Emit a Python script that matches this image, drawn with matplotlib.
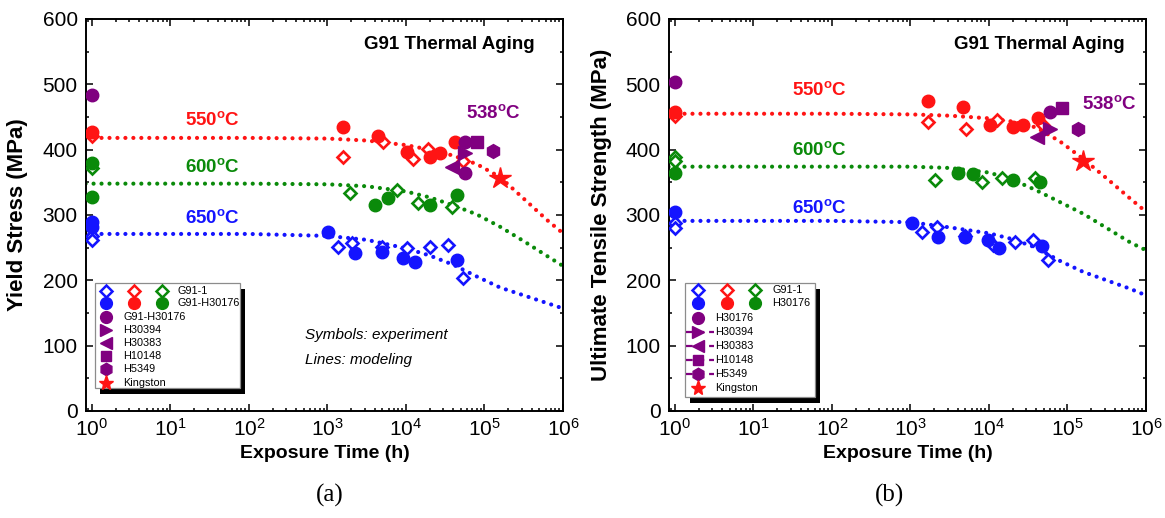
import numpy as np
import matplotlib
matplotlib.use("Agg")
import matplotlib.pyplot as plt
from matplotlib.patches import Rectangle
from matplotlib.ticker import FixedLocator, LogLocator, MultipleLocator, NullFormatter

plt.rcParams['font.family'] = ['Liberation Sans', 'DejaVu Sans']
plt.rcParams['mathtext.fontset'] = 'custom'
plt.rcParams['mathtext.rm'] = 'Liberation Sans'
plt.rcParams['mathtext.it'] = 'Liberation Sans:italic'
plt.rcParams['mathtext.bf'] = 'Liberation Sans:bold'

BLUE = '#1414ff'
RED = '#ff1414'
GREEN = '#0a8a0a'
PURPLE = '#800080'

# ---------------- (a) yield stress, MPa ----------------
ys_550_open_t = [1, 1585, 5130, 12300, 19000, 53700]
ys_550_open = [421, 389, 411, 386, 401, 382]
ys_550_fill_t = [1, 1585, 4370, 10200, 20400, 26900, 41700]
ys_550_fill = [427, 435, 421, 397, 389, 395, 411]
ys_600_open_t = [1, 1950, 7760, 14100, 38900]
ys_600_open = [372, 334, 338, 318, 312]
ys_600_fill_t = [1, 1, 4070, 5890, 20400, 44700]
ys_600_fill = [380, 328, 315, 326, 315, 331]
ys_650_open_t = [1, 1, 1350, 2040, 4900, 10200, 20400, 34700, 53700]
ys_650_open = [268, 261, 251, 257, 251, 249, 251, 254, 203]
ys_650_fill_t = [1, 1, 1020, 2240, 4900, 9120, 12900, 44700]
ys_650_fill = [289, 282, 274, 242, 243, 234, 228, 231]

ys_h30176_t = [1, 56200, 56200]
ys_h30176 = [483, 411, 365]
ys_h30394_t = [56200]
ys_h30394 = [395]
ys_h30383_t = [38900]
ys_h30383 = [374]
ys_h10148_t = [79400]
ys_h10148 = [411]
ys_h5349_t = [129000]
ys_h5349 = [398]
ys_kingston_t = [158000]
ys_kingston = [357]

# ---------------- (b) ultimate tensile strength, MPa ----------------
uts_550_open_t = [1, 1660, 5130, 12600, 49000]
uts_550_open = [451, 442, 431, 446, 438]
uts_550_fill_t = [1, 1660, 4680, 10200, 20400, 26900, 41700]
uts_550_fill = [457, 475, 466, 438, 434, 438, 449]
uts_600_open_t = [1, 1, 2040, 8130, 14800, 38900]
uts_600_open = [389, 383, 354, 351, 357, 357]
uts_600_fill_t = [1, 3980, 6310, 20400, 44700]
uts_600_fill = [364, 364, 362, 354, 351]
uts_650_open_t = [1, 1, 1410, 2190, 4900, 11200, 21400, 36300, 56200]
uts_650_open = [287, 280, 274, 282, 268, 254, 259, 262, 231]
uts_650_fill_t = [1, 1050, 2240, 4900, 9770, 13500, 46800]
uts_650_fill = [304, 287, 266, 266, 262, 249, 253]

uts_h30176_t = [1, 60300]
uts_h30176 = [503, 458]
uts_h30394_t = [60300]
uts_h30394 = [431]
uts_h30383_t = [40700]
uts_h30383 = [420]
uts_h10148_t = [85100]
uts_h10148 = [464]
uts_h5349_t = [135000]
uts_h5349 = [432]
uts_kingston_t = [158000]
uts_kingston = [383]

# ---------------- model curves ----------------
model_t = [0.83, 10, 100, 1000, 3160, 10000, 20000, 39800, 79400, 158000, 316000, 631000, 1000000]
ys_model_550 = [418, 418, 418, 417, 414, 407, 400, 391, 378, 358, 325, 292, 272]
ys_model_600 = [348, 348, 348, 347, 344, 336, 327, 315, 301, 282, 260, 237, 222]
ys_model_650 = [271, 271, 271, 268, 262, 249, 238, 224, 206, 189, 177, 165, 157]
uts_model_550 = [455, 455, 455, 454, 452, 448, 443, 434, 413, 386, 356, 325, 305]
uts_model_600 = [374, 374, 374, 374, 372, 365, 354, 338, 320, 302, 280, 258, 246]
uts_model_650 = [291, 291, 291, 289, 281, 272, 263, 250, 230, 213, 200, 187, 177]

x_major = [1, 10, 100, 1000, 10000, 100000, 1000000]

fig = plt.figure(figsize=(11.65, 5.18), dpi=100)
W, H = 1165.0, 518.0
ax_a = fig.add_axes([86 / W, (H - 411) / H, 477 / W, 392 / H])
ax_b = fig.add_axes([669 / W, (H - 411) / H, 477 / W, 392 / H])

DOT = dict(linestyle=(0, (0.01, 1.9)), linewidth=3.0, dash_capstyle='round',
           solid_capstyle='round', zorder=2)


def open_d(ax, t, v, c):
    ax.plot(t, v, linestyle='none', marker='D', ms=6.2, mfc='white', mec=c,
            mew=1.9, zorder=4)


def fill_o(ax, t, v, c):
    ax.plot(t, v, linestyle='none', marker='o', ms=9, color=c, zorder=5)


def style_axes(ax, ylabel):
    ax.set_xscale('log')
    ax.set_xlim(0.84, 1e6)
    ax.set_ylim(0, 600)
    ax.yaxis.set_major_locator(MultipleLocator(100))
    ax.yaxis.set_minor_locator(MultipleLocator(50))
    ax.xaxis.set_major_locator(FixedLocator(x_major))
    ax.xaxis.set_minor_locator(LogLocator(base=10, subs=np.arange(2, 10), numticks=20))
    ax.xaxis.set_minor_formatter(NullFormatter())
    ax.tick_params(which='both', direction='in', top=True, right=True, width=1.1)
    ax.tick_params(which='major', length=5, labelsize=15)
    ax.tick_params(which='minor', length=2.5)
    ax.tick_params(axis='y', pad=6)
    ax.tick_params(axis='x', pad=5)
    for s in ax.spines.values():
        s.set_linewidth(1.4)
    ax.set_xlabel('Exposure Time (h)', fontsize=14, fontweight='bold', labelpad=4)
    ax.set_ylabel(ylabel, fontsize=16, fontweight='bold')


def key(ax, x0, x1, y0, y1, rows, cols, tx_pair, tx_single, labels, dashed):
    ax.add_patch(Rectangle((x0 + 0.011, y0 - 0.015), x1 - x0, y1 - y0,
                           transform=ax.transAxes, facecolor='black',
                           edgecolor='none', zorder=8))
    ax.add_patch(Rectangle((x0, y0), x1 - x0, y1 - y0, transform=ax.transAxes,
                           facecolor='white', edgecolor='#8c8c8c', lw=0.9, zorder=9))
    kw = dict(transform=ax.transAxes, linestyle='none', zorder=11, clip_on=False)
    for cx, c in zip(cols, [BLUE, RED, GREEN]):
        ax.plot([cx], [rows[1]], marker='o', ms=8.5, color=c, **kw)
        ax.plot([cx], [rows[0]], marker='D', ms=5.8, mfc='white', mec=c, mew=1.8, **kw)
    tkw = dict(transform=ax.transAxes, fontsize=7.8, va='center', ha='left', zorder=12)
    ax.text(tx_pair, rows[0], labels[0], **tkw)
    ax.text(tx_pair, rows[1], labels[1], **tkw)
    marks = [('o', 8.5, PURPLE), ('>', 8.5, PURPLE), ('<', 8.5, PURPLE),
             ('s', 7.5, PURPLE), ('h', 9, PURPLE), ('*', 11, RED)]
    for i, (m, s, c) in enumerate(marks):
        y = rows[2 + i]
        if dashed[i]:
            ax.plot([x0 + 0.002, cols[0] + 0.033], [y, y], color=PURPLE, lw=1.6,
                    linestyle=(0, (3, 2.2)), transform=ax.transAxes, zorder=10)
        ax.plot([cols[0]], [y], marker=m, ms=s, color=c, **kw)
        ax.text(tx_single, y, labels[2 + i], **tkw)


def temp_label(ax, x, y, txt, c):
    ax.text(x, y, txt + r'$^{\mathbf{o}}$C', transform=ax.transAxes, color=c,
            fontsize=13.5, fontweight='bold', ha='left', va='center', zorder=6)


# ---------- panel (a) ----------
ax = ax_a
ax.plot(model_t, ys_model_550, color=RED, **DOT)
ax.plot(model_t, ys_model_600, color=GREEN, **DOT)
ax.plot(model_t, ys_model_650, color=BLUE, **DOT)
open_d(ax, ys_550_open_t, ys_550_open, RED)
open_d(ax, ys_600_open_t, ys_600_open, GREEN)
open_d(ax, ys_650_open_t, ys_650_open, BLUE)
fill_o(ax, ys_550_fill_t, ys_550_fill, RED)
fill_o(ax, ys_600_fill_t, ys_600_fill, GREEN)
fill_o(ax, ys_650_fill_t, ys_650_fill, BLUE)
ax.plot(ys_h30176_t, ys_h30176, 'o', ms=9, color=PURPLE, zorder=6)
ax.plot(ys_h30394_t, ys_h30394, '>', ms=10, color=PURPLE, zorder=6)
ax.plot(ys_h30383_t, ys_h30383, '<', ms=10, color=PURPLE, zorder=6)
ax.plot(ys_h10148_t, ys_h10148, 's', ms=8.5, color=PURPLE, zorder=6)
ax.plot(ys_h5349_t, ys_h5349, 'h', ms=10, color=PURPLE, zorder=6)
ax.plot(ys_kingston_t, ys_kingston, '*', ms=16, color=RED, zorder=6)
style_axes(ax, 'Yield Stress (MPa)')
ax.yaxis.set_label_coords(-0.122, 0.5)
temp_label(ax, 0.2075, 0.742, '550', RED)
temp_label(ax, 0.2075, 0.622, '600', GREEN)
temp_label(ax, 0.2075, 0.492, '650', BLUE)
temp_label(ax, 0.797, 0.760, '538', PURPLE)
ax.text(0.941, 0.934, 'G91 Thermal Aging', transform=ax.transAxes, fontsize=13.5,
        fontweight='bold', ha='right', va='center')
ax.text(0.459, 0.194, 'Symbols: experiment', transform=ax.transAxes, fontsize=11,
        style='italic', ha='left', va='center')
ax.text(0.459, 0.130, 'Lines: modeling', transform=ax.transAxes, fontsize=11,
        style='italic', ha='left', va='center')
key(ax, 0.019, 0.323, 0.059, 0.327,
    [0.306, 0.2755, 0.240, 0.207, 0.173, 0.140, 0.107, 0.071],
    [0.042, 0.101, 0.159], 0.191, 0.078,
    ['G91-1', 'G91-H30176', 'G91-H30176', 'H30394', 'H30383', 'H10148', 'H5349', 'Kingston'],
    [False] * 6)

# ---------- panel (b) ----------
ax = ax_b
ax.plot(model_t, uts_model_550, color=RED, **DOT)
ax.plot(model_t, uts_model_600, color=GREEN, **DOT)
ax.plot(model_t, uts_model_650, color=BLUE, **DOT)
open_d(ax, uts_550_open_t, uts_550_open, RED)
open_d(ax, uts_600_open_t, uts_600_open, GREEN)
open_d(ax, uts_650_open_t, uts_650_open, BLUE)
fill_o(ax, uts_550_fill_t, uts_550_fill, RED)
fill_o(ax, uts_600_fill_t, uts_600_fill, GREEN)
fill_o(ax, uts_650_fill_t, uts_650_fill, BLUE)
ax.plot(uts_h30176_t, uts_h30176, 'o', ms=9, color=PURPLE, zorder=6)
ax.plot(uts_h30394_t, uts_h30394, '>', ms=10, color=PURPLE, zorder=6)
ax.plot(uts_h30383_t, uts_h30383, '<', ms=10, color=PURPLE, zorder=6)
ax.plot(uts_h10148_t, uts_h10148, 's', ms=8.5, color=PURPLE, zorder=6)
ax.plot(uts_h5349_t, uts_h5349, 'h', ms=10, color=PURPLE, zorder=6)
ax.plot(uts_kingston_t, uts_kingston, '*', ms=16, color=RED, zorder=6)
style_axes(ax, 'Ultimate Tensile Strength (MPa)')
ax.yaxis.set_label_coords(-0.119, 0.5)
temp_label(ax, 0.258, 0.819, '550', RED)
temp_label(ax, 0.258, 0.666, '600', GREEN)
temp_label(ax, 0.258, 0.518, '650', BLUE)
temp_label(ax, 0.866, 0.783, '538', PURPLE)
ax.text(0.955, 0.934, 'G91 Thermal Aging', transform=ax.transAxes, fontsize=13.5,
        fontweight='bold', ha='right', va='center')
key(ax, 0.0335, 0.306, 0.036, 0.327,
    [0.309, 0.2755, 0.237, 0.2015, 0.166, 0.130, 0.094, 0.059],
    [0.061, 0.122, 0.180], 0.216, 0.0964,
    ['G91-1', 'H30176', 'H30176', 'H30394', 'H30383', 'H10148', 'H5349', 'Kingston'],
    [False, True, True, True, True, False])

fig.text(330 / W, 1 - 495 / H, '(a)', family='Liberation Serif', fontsize=18,
         ha='center', va='center')
fig.text(890 / W, 1 - 495 / H, '(b)', family='Liberation Serif', fontsize=18,
         ha='center', va='center')

fig.savefig('out.png', dpi=100)
